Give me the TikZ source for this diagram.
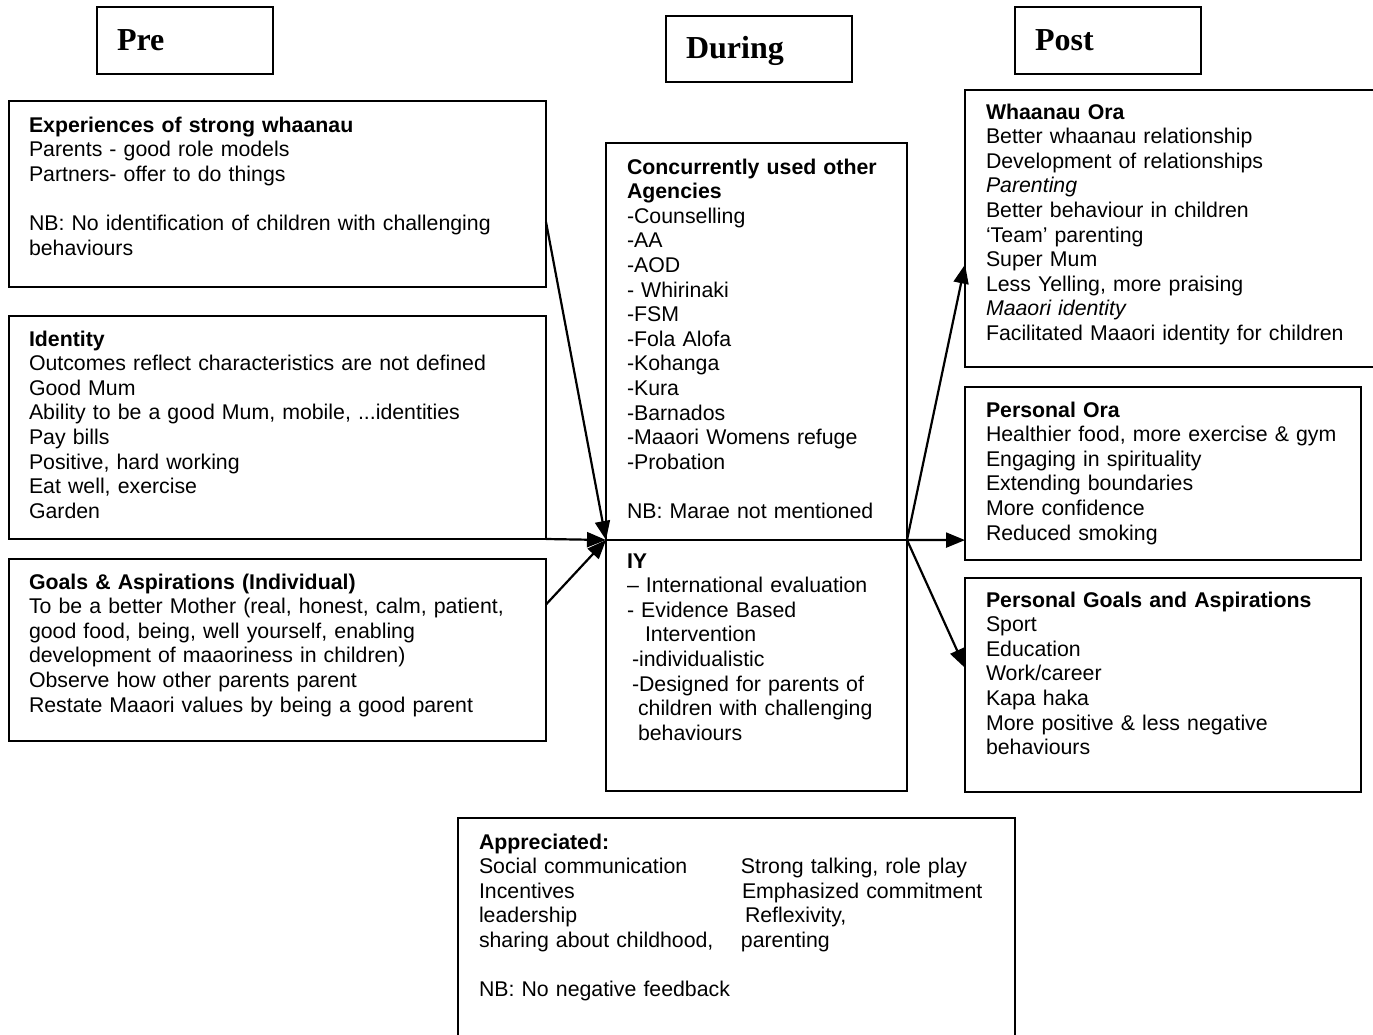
\documentclass[tikz,border=0pt]{standalone}
\usepackage{fontspec}
\setmainfont{Liberation Sans}
\newfontfamily\titlefont{Liberation Serif}
\usetikzlibrary{arrows.meta,calc}
\newcommand{\fs}{\rule{0pt}{18pt}}
\begin{document}
\begin{tikzpicture}[x=1pt,y=-1pt,
  box/.style={draw, line width=1.7pt, inner sep=0pt, outer sep=0pt, anchor=north west, rectangle},
  hdr/.style={box, line width=1.9pt},
  txt/.style={anchor=north west, inner sep=0pt, outer sep=0pt, align=left, text width=#1, font=\fontsize{21.3pt}{24.6pt}\selectfont},
  txt/.default=520pt,
  ttl/.style={anchor=base west, inner sep=0pt, outer sep=0pt, font=\titlefont\bfseries\fontsize{32pt}{36pt}\selectfont},
  arr/.style={line width=2.2pt, -{Triangle[length=19pt,width=15pt]}},
]
\useasboundingbox (0,0) rectangle (1373,1034);
\clip (0,0) rectangle (1373,1034);

% header boxes
\node[hdr, minimum width=176pt, minimum height=67pt] (prebox) at (97,7) {};
\node[hdr, minimum width=186pt, minimum height=66pt] (durbox) at (666,16) {};
\node[hdr, minimum width=186pt, minimum height=67pt] (postbox) at (1015,7) {};
\node[ttl] (pre) at (117,50) {Pre};
\node[ttl] (during) at (686,58) {During};
\node[ttl] (post) at (1035,50) {Post};

% left boxes
\node[box, minimum width=537pt, minimum height=186pt] (exp) at (9,101) {};
\node[box, minimum width=537pt, minimum height=223pt] (ident) at (9,316) {};
\node[box, minimum width=537pt, minimum height=182pt] (goals) at (9,559) {};

\node[txt] (exptxt) at (29,114) {\fs\textbf{Experiences of strong whaanau}\\
Parents - good role models\\
Partners- offer to do things\\[\baselineskip]
NB: No identification of children with challenging\\
behaviours};

\node[txt] (identtxt) at (29,328) {\fs\textbf{Identity}\\
Outcomes reflect characteristics are not defined\\
Good Mum\\
Ability to be a good Mum, mobile, ...identities\\
Pay bills\\
Positive, hard working\\
Eat well, exercise\\
Garden};

\node[txt] (goalstxt) at (29,571) {\fs\textbf{Goals \& Aspirations (Individual)}\\
To be a better Mother (real, honest, calm, patient,\\
good food, being, well yourself, enabling\\
development of maaoriness in children)\\
Observe how other parents parent\\
Restate Maaori values by being a good parent};

% centre boxes
\node[box, minimum width=301pt, minimum height=397pt] (agency) at (606,143) {};
\node[box, minimum width=301pt, minimum height=251pt] (iy) at (606,540) {};

\node[txt=280pt] (agencytxt) at (627,156) {\fs\textbf{Concurrently used other}\\
\textbf{Agencies}\\
-Counselling\\
-AA\\
-AOD\\
- Whirinaki\\
-FSM\\
-Fola Alofa\\
-Kohanga\\
-Kura\\
-Barnados\\
-Maaori Womens refuge\\
-Probation\\[\baselineskip]
NB: Marae not mentioned};

\node[txt=280pt] (iytxt) at (627,550) {\fs\textbf{IY}\\
–\ International evaluation\\
- Evidence Based\\
\hspace*{18pt}Intervention\\
\hspace*{5pt}-individualistic\\
\hspace*{5pt}-Designed for parents of\\
\hspace*{11pt}children with challenging\\
\hspace*{11pt}behaviours};

% right boxes
\node[box, minimum width=430pt, minimum height=277pt] (whaanau) at (965,90) {};
\node[box, minimum width=396pt, minimum height=173pt] (pora) at (965,387) {};
\node[box, minimum width=396pt, minimum height=214pt] (pgoals) at (965,578) {};

\node[txt=385pt] (whaanautxt) at (986,101) {\fs\textbf{Whaanau Ora}\\
Better whaanau relationship\\
Development of relationships\\
\textit{Parenting}\\
Better behaviour in children\\
‘Team’ parenting\\
Super Mum\\
Less Yelling, more praising\\
\textit{Maaori identity}\\
Facilitated Maaori identity for children};

\node[txt=385pt] (poratxt) at (986,399) {\fs\textbf{Personal Ora}\\
Healthier food, more exercise \& gym\\
Engaging in spirituality\\
Extending boundaries\\
More confidence\\
Reduced smoking};

\node[txt=385pt] (pgoalstxt) at (986,589) {\fs\textbf{Personal Goals and Aspirations}\\
Sport\\
Education\\
Work/career\\
Kapa haka\\
More positive \& less negative\\
behaviours};

% appreciated
\node[box, minimum width=557pt, minimum height=240pt] (appr) at (458,818) {};
\node[txt=530pt] (apprtxt) at (479,831) {\fs\textbf{Appreciated:}\\
\makebox[262pt][l]{Social communication}Strong talking, role play\\
\makebox[262pt][l]{Incentives}\hspace*{1pt}Emphasized commitment\\
\makebox[262pt][l]{leadership}\hspace*{4pt}Reflexivity,\\
\makebox[262pt][l]{sharing about childhood,}parenting\\[\baselineskip]
NB: No negative feedback};

% arrows
\draw[arr] ($(exp.south east)!0.35!(exp.north east)$) -- (agency.south west);
\draw[arr] (ident.south east) -- (agency.south west);
\draw[arr] ($(goals.north east)!0.25!(goals.south east)$) -- (agency.south west);
\draw[arr] (agency.south east) -- ($(whaanau.north west)!0.63!(whaanau.south west)$);
\draw[arr] (agency.south east) -- ($(pora.north west)!0.885!(pora.south west)$);
\draw[arr] (agency.south east) -- ($(pgoals.north west)!0.42!(pgoals.south west)$);
\end{tikzpicture}
\end{document}
